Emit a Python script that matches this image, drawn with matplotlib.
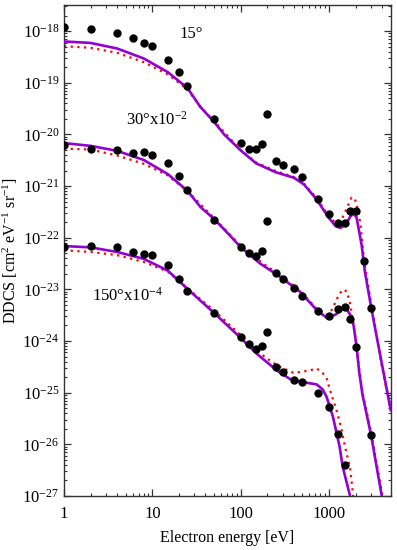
import matplotlib
matplotlib.use("Agg")
import matplotlib.pyplot as plt
from matplotlib.ticker import LogLocator, FixedLocator, FuncFormatter, NullFormatter

plt.rcParams["font.family"] = ["Liberation Serif", "DejaVu Serif"]
plt.rcParams["mathtext.fontset"] = "custom"
plt.rcParams["mathtext.rm"] = "Liberation Serif"
plt.rcParams["mathtext.it"] = "Liberation Serif:italic"

# measured points (electron energy in eV, DDCS)
e_15 = [1, 2, 4, 6, 8, 10, 15, 20, 25, 50, 100, 125, 150, 175, 200, 250, 300,
        400, 500, 750, 1000, 1250, 1500, 1750, 2000, 2500, 3000]
v_15 = [1.2e-18, 1.12e-18, 9.0e-19, 7.2e-19, 6.0e-19, 5.1e-19, 2.75e-19, 1.6e-19,
        8.5e-20, 2.0e-20, 6.7e-21, 5.15e-21, 5.15e-21, 6.4e-21, 2.5e-20, 3.1e-21,
        2.6e-21, 2.1e-21, 1.5e-21, 5.5e-22, 2.9e-22, 1.9e-22, 1.97e-22, 3.26e-22,
        3.26e-22, 3.5e-23, 4.4e-24]

e_30 = [1, 2, 4, 6, 8, 10, 15, 20, 25, 50, 100, 125, 150, 175, 200, 250, 300,
        400, 500, 750, 1000, 1250, 1500, 1750, 2000, 3000]
v_30 = [6.15e-21, 5.3e-21, 4.9e-21, 4.3e-21, 4.57e-21, 4.07e-21, 2.76e-21, 1.6e-21,
        8.4e-22, 2.25e-22, 6.6e-23, 5.1e-23, 4.5e-23, 5.65e-23, 2.1e-22, 2.1e-23,
        1.57e-23, 1.07e-23, 7.6e-24, 3.84e-24, 3.1e-24, 4.1e-24, 4.6e-24, 2.7e-24,
        7.5e-25, 1.5e-26]

e_150 = [1, 2, 4, 6, 8, 10, 15, 20, 25, 50, 100, 125, 150, 175, 200, 250, 300,
         400, 500, 750, 1000, 1250, 1500]
v_150 = [6.5e-23, 6.9e-23, 6.5e-23, 5.2e-23, 4.9e-23, 4.65e-23, 2.98e-23, 1.57e-23,
         9.5e-24, 3.5e-24, 1.2e-24, 8.8e-25, 6.9e-25, 8.1e-25, 1.5e-24, 3.1e-25,
         2.5e-25, 1.75e-25, 1.6e-25, 1.0e-25, 5.4e-26, 1.6e-26, 3.9e-27]

# theory, solid purple curves
ts_15_e = [1, 2, 4, 8, 15, 25, 35, 50, 65, 100, 150, 250, 400, 520, 725, 1000, 1200,
           1350, 1550, 1750, 1900, 2050, 2200, 2350, 2550, 3050, 3600, 4540, 5000]
ts_15_v = [6.3e-19, 5.9e-19, 4.6e-19, 2.95e-19, 1.6e-19, 7.9e-20, 3.4e-20, 1.75e-20,
           1.0e-20, 4.9e-21, 2.75e-21, 1.85e-21, 1.45e-21, 1.08e-21, 5.5e-22, 2.4e-22,
           1.65e-22, 1.55e-22, 1.8e-22, 2.6e-22, 2.9e-22, 2.5e-22, 1.3e-22, 7e-23,
           2.2e-23, 3.9e-24, 8.7e-25, 1.1e-25, 4.6e-26]

ts_30_e = [1, 2, 4, 8, 15, 25, 35, 50, 65, 100, 166, 280, 470, 725, 960, 1200, 1520,
           1750, 1900, 2050, 2200, 2400, 3000, 3960]
ts_30_v = [6.8e-21, 6.0e-21, 4.8e-21, 3.2e-21, 1.7e-21, 8.1e-22, 3.95e-22, 2.3e-22,
           1.45e-22, 6.6e-23, 3.17e-23, 1.75e-23, 9e-24, 4e-24, 2.75e-24, 3.3e-24,
           4.6e-24, 3.2e-24, 2e-24, 8e-25, 2.5e-25, 9e-26, 1.5e-26, 1e-27]

ts_150_e = [1, 2, 4, 8, 15, 25, 50, 100, 150, 256, 360, 500, 725, 850, 940, 1110,
            1320, 1430, 1734]
ts_150_v = [6.9e-23, 6.5e-23, 5.3e-23, 3.9e-23, 2.3e-23, 1.02e-23, 3.5e-24, 1.15e-24,
            5.8e-25, 2.7e-25, 1.85e-25, 1.6e-25, 1.45e-25, 1.15e-25, 8.3e-26, 3.4e-26,
            9e-27, 3.7e-27, 1e-27]

# theory, red dotted curves
td_15_e = [1, 2, 4, 8, 15, 25, 35, 50, 100, 150, 250, 400, 520, 725, 1000, 1200,
           1400, 1600, 1800, 1950, 2050, 2270, 2490, 3050, 4000, 5000]
td_15_v = [5.1e-19, 4.75e-19, 3.8e-19, 2.5e-19, 1.45e-19, 7.5e-20, 3.4e-20, 1.8e-20,
           5.0e-21, 2.85e-21, 1.95e-21, 1.5e-21, 1.12e-21, 5.8e-22, 2.6e-22, 1.9e-22,
           2.3e-22, 3.8e-22, 6.0e-22, 5.8e-22, 4.5e-22, 1.9e-22, 3.7e-23, 4.5e-24,
           3e-25, 5e-26]

td_30_e = [1, 2, 4, 8, 15, 25, 50, 100, 170, 280, 470, 725, 960, 1070, 1164, 1300,
           1450, 1600, 1734, 1893, 2050, 2200, 2400, 3000, 4000]
td_30_v = [5.3e-21, 5.1e-21, 3.9e-21, 2.7e-21, 1.6e-21, 8e-22, 2.4e-22, 7e-23,
           3.4e-23, 1.85e-23, 9.5e-24, 4.2e-24, 3.2e-24, 3.96e-24, 5.3e-24, 8e-24,
           1.0e-23, 9e-24, 5.3e-24, 2.2e-24, 8e-25, 2.8e-25, 1e-25, 1.7e-26, 1.1e-27]

td_150_e = [1, 2, 4, 8, 15, 25, 50, 100, 150, 256, 400, 608, 725, 850, 940, 1070,
            1200, 1300, 1400, 1520, 1734, 1880]
td_150_v = [5.7e-23, 5.3e-23, 4.6e-23, 3.4e-23, 2.2e-23, 1.05e-23, 3.9e-24, 1.3e-24,
            6.5e-25, 3.4e-25, 2.4e-25, 2.7e-25, 2.95e-25, 2.4e-25, 1.9e-25, 9e-26,
            5e-26, 3e-26, 1.8e-26, 9e-27, 3.5e-27, 1e-27]

y_decades = [10.0 ** k for k in range(-27, -17)]
purple = "#9400d3"

fig = plt.figure(figsize=(3.97, 5.5), dpi=100)
ax = fig.add_axes([64 / 397, 1 - 496 / 550, (390.7 - 64) / 397, (496 - 5) / 550])

for e, v in [(td_15_e, td_15_v), (td_30_e, td_30_v), (td_150_e, td_150_v)]:
    ax.plot(e, v, color="red", lw=1.6, ls=(0, (1, 2)), zorder=2)
for e, v in [(ts_15_e, ts_15_v), (ts_30_e, ts_30_v), (ts_150_e, ts_150_v)]:
    ax.plot(e, v, color=purple, lw=1.9, zorder=3)
for e, v in [(e_15, v_15), (e_30, v_30), (e_150, v_150)]:
    ax.plot(e, v, "o", color="black", ms=5, zorder=4)

ax.set_xscale("log")
ax.set_yscale("log")
ax.set_xlim(1, 5000)
ax.set_ylim(1e-27, 3.2e-18)

ax.text(20.5, 8.6e-19, "15°", fontsize=12, va="center")
ax.text(5.0, 1.96e-20, "30°x10$^{-2}$", fontsize=12, va="center")
ax.text(2.06, 7.4e-24, "150°x10$^{-4}$", fontsize=12, va="center")

ax.yaxis.set_major_locator(FixedLocator(y_decades))
ax.yaxis.set_minor_locator(LogLocator(base=10, subs=range(2, 10), numticks=20))
ax.yaxis.set_minor_formatter(NullFormatter())
ax.xaxis.set_major_formatter(FuncFormatter(lambda x, p: "%d" % x))
ax.xaxis.set_minor_formatter(NullFormatter())

ax.tick_params(which="both", direction="in", top=True, right=True, labelsize=12,
               color="#333333")
ax.tick_params(which="major", length=5, width=0.9)
ax.tick_params(which="minor", length=2.5, width=0.8)
ax.tick_params(axis="x", pad=7)
for s in ax.spines.values():
    s.set_linewidth(1.0)
    s.set_color("#333333")

ax.set_xlabel("Electron energy [eV]", fontsize=11.5, labelpad=6)
ax.set_ylabel("DDCS [cm$^2$ eV$^{-1}$ sr$^{-1}$]", fontsize=11.5)
ax.yaxis.set_label_coords(-0.135, 0.5)

fig.savefig("out.png", dpi=100)
